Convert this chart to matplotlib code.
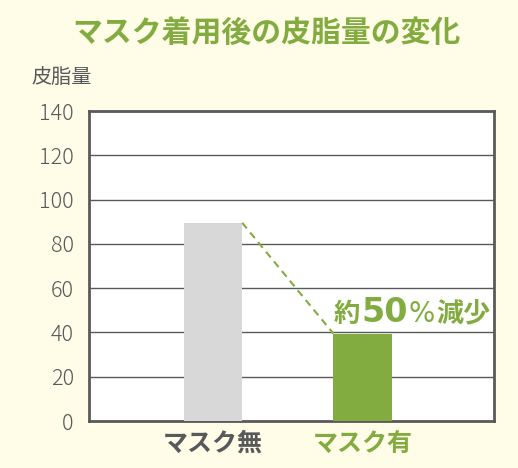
import numpy as np
import matplotlib
matplotlib.use("Agg")
import matplotlib.pyplot as plt

plt.rcParams['font.family'] = ['Noto Sans CJK JP', 'DejaVu Sans']

categories = ['マスク無', 'マスク有']
values = [89.5, 39.5]
yticks = [0, 20, 40, 60, 80, 100, 120, 140]

bg = '#FFFDE7'
green = '#82AC40'
gray_bar = '#D8D8D8'
dark = '#58595B'

fig = plt.figure(figsize=(5.18, 4.68), dpi=100, facecolor=bg)
ax = fig.add_axes([89 / 518, 1 - 421 / 468, 405 / 518, 310 / 468])
ax.set_facecolor('white')

x = np.arange(len(categories))
w = 0.39
ax.bar(x, values, width=w, color=[gray_bar, green], zorder=3)

# dashed connector from top of first bar to top of second
ax.plot([x[0] + w / 2, x[1] - w / 2], [values[0], values[1]],
        ls=(0, (3.5, 2.5)), color=green, lw=1.5, zorder=4)

ax.set_xlim(-0.83, 1.88)
ax.set_ylim(0, 140)
ax.set_yticks(yticks)
ax.set_yticklabels([str(t) for t in yticks], fontsize=15.5, color=dark, fontweight=300)
ax.yaxis.grid(True, color='#5A5A5A', lw=1.0, zorder=1)
ax.set_axisbelow(True)
ax.tick_params(axis='y', length=0, pad=11)
ax.tick_params(axis='x', length=0, pad=8)
ax.set_xticks(x)
ax.set_xticklabels(categories, fontsize=18, fontweight='bold')
for lbl, c in zip(ax.get_xticklabels(), [dark, green]):
    lbl.set_color(c)
for s in ax.spines.values():
    s.set_color('#5A5A5A')
    s.set_linewidth(2)

fig.text(0.5145, 1 - 33 / 468, 'マスク着用後の皮脂量の変化', ha='center', va='center',
         fontsize=21.5, fontweight='bold', color=green)
fig.text(31 / 518, 1 - 78 / 468, '皮脂量', ha='left', va='center',
         fontsize=14.5, color=dark)

# annotation built from pieces: 約 / 50 / % / 減少
fig.canvas.draw()
r = fig.canvas.get_renderer()
pieces = [('約', 19, 'bold', 'Noto Sans CJK JP'),
          ('50', 24, 'bold', 'DejaVu Sans'),
          ('%', 20, 'normal', 'DejaVu Sans'),
          ('減少', 19.5, 'bold', 'Noto Sans CJK JP')]
xpos = 334
ybase = 1 - 322 / 468
for txt, fs, fw, fam in pieces:
    t = fig.text(xpos / 518, ybase, txt, ha='left', va='baseline',
                 fontsize=fs, fontweight=fw, color=green, family=fam)
    bb = t.get_window_extent(renderer=r)
    xpos += bb.width + 1

fig.savefig('out.png', dpi=100, facecolor=bg)
